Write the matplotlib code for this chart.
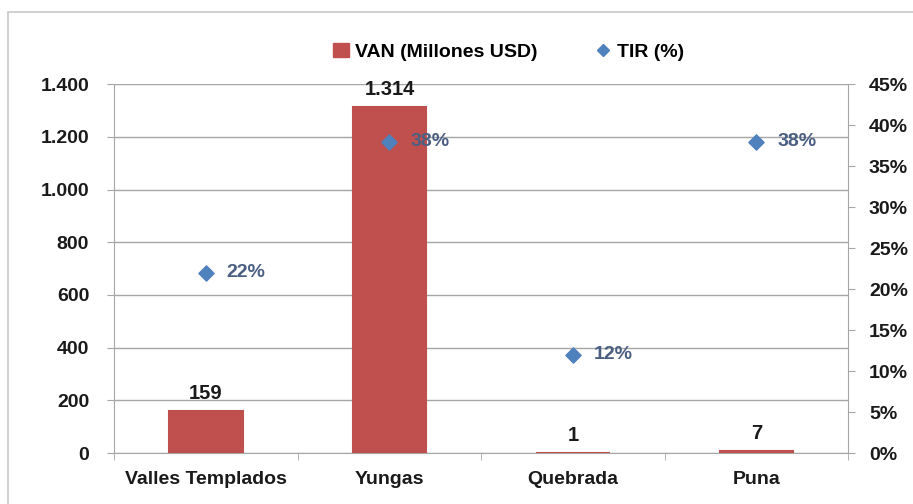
import numpy as np
import matplotlib.pyplot as plt
from matplotlib.lines import Line2D
from matplotlib.patches import Patch, Rectangle

# data
regiones = ['Valles Templados', 'Yungas', 'Quebrada', 'Puna']
van = [159, 1314, 1, 7]
tir = [22, 38, 12, 38]
van_labels = ['159', '1.314', '1', '7']

bar_color = '#C0504D'
tir_color = '#4F81BD'
txt_blue = '#4A5F82'
grid_gray = '#A6A6A6'
txt = '#1A1A1A'

plt.rcParams['font.family'] = ['Liberation Sans Narrow', 'Liberation Sans', 'DejaVu Sans']
plt.rcParams['font.weight'] = 'bold'

fig = plt.figure(figsize=(9.13, 5.04), dpi=100)
fig.patches.append(Rectangle((0.009, -0.02), 1.1, 0.996, transform=fig.transFigure,
                             fill=False, edgecolor='#C8C8C8', lw=1.2))

ax = fig.add_axes([0.125, 0.101, 0.804, 0.732])
x = np.arange(len(regiones))
# thin edge so the tiny bars (1 and 7) still show as a sliver
ax.bar(x, van, width=0.40, color=bar_color, edgecolor=bar_color, lw=1.5, zorder=3)
ax.set_xlim(-0.5, 3.5)
ax.set_ylim(0, 1400)
ax.set_yticks(np.arange(0, 1401, 200))
ax.set_yticklabels(['0', '200', '400', '600', '800', '1.000', '1.200', '1.400'])
ax.yaxis.grid(True, color=grid_gray, lw=1, zorder=0)
ax.set_xticks(x)
ax.set_xticklabels(regiones)
ax.set_xticks(np.arange(-0.5, 4, 1), minor=True)
ax.tick_params(axis='x', which='major', length=0, pad=13, labelsize=14, labelcolor=txt)
ax.tick_params(axis='x', which='minor', length=5, color=grid_gray)
ax.tick_params(axis='y', length=5, color=grid_gray, labelsize=14, pad=13, labelcolor=txt)
for s in ['top', 'right']:
    ax.spines[s].set_visible(False)
for s in ['left', 'bottom']:
    ax.spines[s].set_color(grid_gray)

for xi, v, lab in zip(x, van, van_labels):
    ax.text(xi, v + 30, lab, ha='center', va='bottom', fontsize=14.5, fontweight='bold',
            color=txt)

ax2 = ax.twinx()
ax2.set_ylim(0, 45)
ax2.set_yticks(np.arange(0, 46, 5))
ax2.set_yticklabels([f'{v}%' for v in range(0, 46, 5)])
ax2.tick_params(axis='y', length=5, color=grid_gray, labelsize=14, pad=10, labelcolor=txt)
for s in ['top', 'left', 'bottom']:
    ax2.spines[s].set_visible(False)
ax2.spines['right'].set_color(grid_gray)
ax2.scatter(x, tir, marker='D', s=60, color=tir_color, zorder=4)
for xi, t in zip(x, tir):
    ax2.annotate(f'{t}%', (xi, t), xytext=(15, 0), textcoords='offset points',
                 va='center', ha='left', fontsize=14, color=txt_blue, fontweight='bold')

handles = [Patch(color=bar_color, label='VAN (Millones USD)'),
           Line2D([], [], marker='D', ls='none', color=tir_color, markersize=6, label='TIR (%)')]
fig.legend(handles=handles, loc='center', bbox_to_anchor=(0.557, 0.897), ncol=2,
           frameon=False, fontsize=14, handlelength=0.8, handletextpad=0.3, columnspacing=3.0)

fig.savefig('out.png', dpi=100)
